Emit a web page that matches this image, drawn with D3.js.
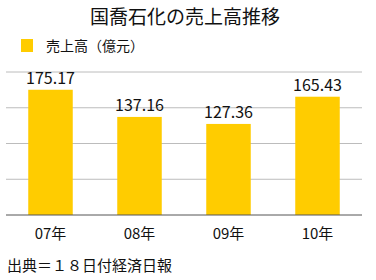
<!DOCTYPE html>
<html lang="ja">
<head>
<meta charset="UTF-8">
<script src="https://cdn.jsdelivr.net/npm/d3@7"></script>
<style>
    body { margin: 0; background: #fff; }
    text { font-family: "Noto Sans CJK JP", sans-serif; fill: #111; }
</style>
</head>
<body>
<div id="chart"></div>
<script>
    // data
    const years = ["07年", "08年", "09年", "10年"];
    const sales = [175.17, 137.16, 127.36, 165.43];
    const yTicks = [0, 50, 100, 150, 200];

    const width = 376, height = 280;
    const margin = { left: 6, right: 14, top: 72, bottom: 65 };

    const svg = d3.select("#chart").append("svg")
        .attr("width", width)
        .attr("height", height);

    const x = d3.scaleBand()
        .domain(years)
        .range([margin.left, width - margin.right])
        .paddingInner(0.5)
        .paddingOuter(0.25);

    const y = d3.scaleLinear()
        .domain([0, 200])
        .range([height - margin.bottom, margin.top]);

    // grid lines
    svg.append("g")
        .selectAll("line")
        .data(yTicks.slice(1))
        .join("line")
        .attr("x1", margin.left)
        .attr("x2", width - margin.right)
        .attr("y1", d => y(d))
        .attr("y2", d => y(d))
        .attr("stroke", "#bcbcbc")
        .attr("stroke-width", 1);

    // bars
    svg.append("g")
        .selectAll("rect")
        .data(sales)
        .join("rect")
        .attr("x", (d, i) => x(years[i]))
        .attr("y", d => y(d))
        .attr("width", x.bandwidth())
        .attr("height", d => y(0) - y(d))
        .attr("fill", "#ffcc00");

    // baseline
    svg.append("line")
        .attr("x1", margin.left)
        .attr("x2", width - margin.right)
        .attr("y1", y(0))
        .attr("y2", y(0))
        .attr("stroke", "#555")
        .attr("stroke-width", 1);

    // value labels
    svg.append("g")
        .selectAll("text")
        .data(sales)
        .join("text")
        .attr("x", (d, i) => x(years[i]) + x.bandwidth() / 2)
        .attr("y", d => y(d) - 6)
        .attr("text-anchor", "middle")
        .attr("font-size", 16)
        .text(d => d.toFixed(2));

    // x axis labels
    svg.append("g")
        .selectAll("text")
        .data(years)
        .join("text")
        .attr("x", d => x(d) + x.bandwidth() / 2)
        .attr("y", 239)
        .attr("text-anchor", "middle")
        .attr("font-size", 15)
        .text(d => d);

    // title
    svg.append("text")
        .attr("x", 185)
        .attr("y", 24)
        .attr("text-anchor", "middle")
        .attr("font-size", 19)
        .text("国喬石化の売上高推移");

    // legend
    svg.append("rect")
        .attr("x", 21).attr("y", 39)
        .attr("width", 12).attr("height", 13)
        .attr("fill", "#ffcc00");
    svg.append("text")
        .attr("x", 46).attr("y", 51)
        .attr("font-size", 14)
        .text("売上高（億元）");

    // source
    svg.append("text")
        .attr("x", 7).attr("y", 271)
        .attr("font-size", 15)
        .text("出典＝１８日付経済日報");
</script>
</body>
</html>
